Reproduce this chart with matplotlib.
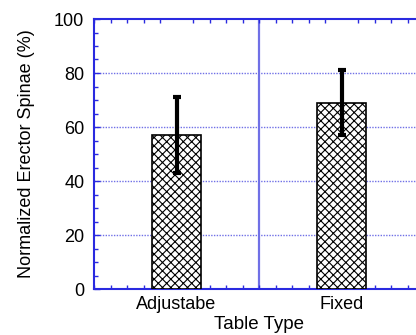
import matplotlib
matplotlib.use("Agg")
import matplotlib.pyplot as plt
import numpy as np

plt.rcParams['font.family'] = ['Liberation Sans', 'DejaVu Sans']
plt.rcParams['hatch.linewidth'] = 0.8

categories = ['Adjustabe', 'Fixed']
values = [57, 69]
errors = [14, 12]

blue = '#2a2ae0'
grid_blue = '#7070e6'

fig = plt.figure(figsize=(4.16, 3.35), dpi=100)
ax = fig.add_axes([94 / 416, 1 - 289 / 335, 330 / 416, 270 / 335])

x = np.arange(len(categories)) + 0.5
ax.bar(x, values, width=0.3, color='white', edgecolor='black',
       linewidth=1.2, hatch='xxxx', zorder=3)
ax.errorbar(x, values, yerr=errors, fmt='none', ecolor='black',
            elinewidth=3, capsize=3, capthick=3, zorder=4)

ax.set_xlim(0, 2)
ax.set_ylim(0, 100)
ax.set_xticks(x)
ax.set_xticklabels(categories, fontsize=13)
ax.set_yticks([0, 20, 40, 60, 80, 100])
ax.set_yticklabels(['0', '20', '40', '60', '80', '100'], fontsize=13)
ax.set_xticks(np.arange(0, 2.01, 0.1), minor=True)
ax.set_yticks(np.arange(0, 101, 5), minor=True)
ax.tick_params(axis='both', which='both', direction='in', color=blue,
               top=True, right=False, width=1)
ax.tick_params(axis='x', which='major', length=0, pad=5)
ax.tick_params(axis='y', which='major', length=4, pad=7)
ax.tick_params(axis='both', which='minor', length=3)

for y in [20, 40, 60, 80]:
    ax.axhline(y, color=grid_blue, linestyle=(0, (1, 1)), linewidth=1, zorder=1)
ax.axvline(1.0, color=grid_blue, linewidth=1.6, zorder=1)

for s in ['left', 'bottom', 'top']:
    ax.spines[s].set_color(blue)
    ax.spines[s].set_linewidth(1.5)
ax.spines['right'].set_visible(False)

ax.set_xlabel('Table Type', fontsize=13.5, labelpad=2)
ax.set_ylabel('Normalized Erector Spinae (%)', fontsize=13, labelpad=14)

fig.savefig('out.png', dpi=100)
